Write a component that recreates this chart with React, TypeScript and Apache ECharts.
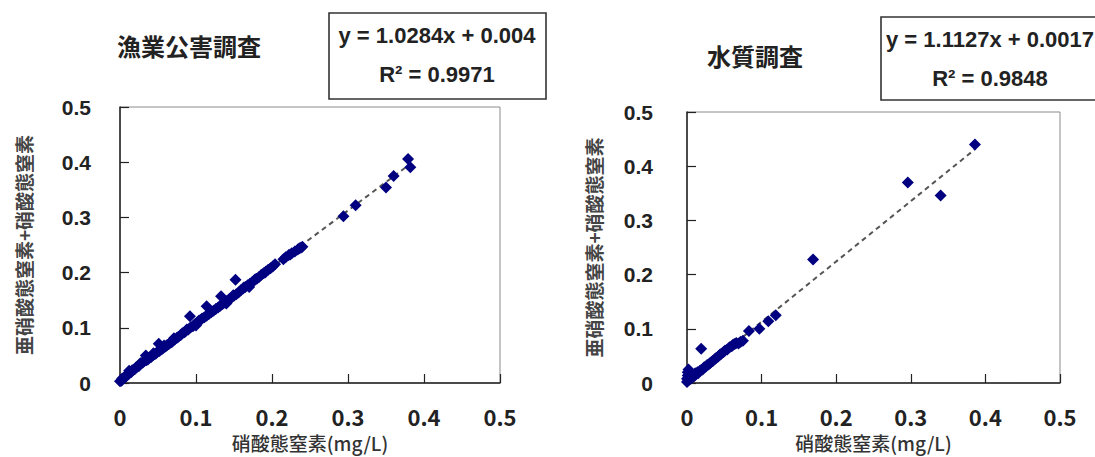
import React, { useEffect, useRef } from "react";
import * as echarts from "echarts";

// ---- data ----
const titles = ["漁業公害調査", "水質調査"];
const equations = ["y = 1.0284x + 0.004", "y = 1.1127x + 0.0017"];
const r2Texts = ["R² = 0.9971", "R² = 0.9848"];
const fitSlope = [1.0284, 1.1127];
const fitIntercept = [0.004, 0.0017];
const fitXEnd = [0.382, 0.386];
const xAxisTitle = "硝酸態窒素(mg/L)";
const yAxisTitle = "亜硝酸態窒素+硝酸態窒素";
const tickLabels = ["0", "0.1", "0.2", "0.3", "0.4", "0.5"];

// 漁業公害調査: nitrate-N (x), nitrite-N + nitrate-N (y)
const fisheryX = [
  0.0, 0.002, 0.003, 0.005, 0.006, 0.008, 0.01, 0.011, 0.013, 0.015, 0.016, 0.018, 0.02, 0.021, 0.023, 0.025,
  0.026, 0.028, 0.03, 0.032, 0.034, 0.035, 0.037, 0.039, 0.041, 0.043, 0.045, 0.047, 0.049, 0.051, 0.052, 0.054,
  0.056, 0.058, 0.06, 0.062, 0.064, 0.066, 0.068, 0.07, 0.072, 0.075, 0.077, 0.08, 0.082, 0.085, 0.087, 0.09,
  0.092, 0.093, 0.096, 0.098, 0.1, 0.101, 0.103, 0.106, 0.108, 0.111, 0.114, 0.114, 0.117, 0.12, 0.123, 0.126,
  0.129, 0.132, 0.133, 0.135, 0.138, 0.14, 0.141, 0.144, 0.147, 0.15, 0.152, 0.153, 0.156, 0.159, 0.162, 0.165,
  0.168, 0.17, 0.171, 0.174, 0.177, 0.18, 0.183, 0.186, 0.189, 0.192, 0.195, 0.198, 0.201, 0.215, 0.218, 0.222,
  0.226, 0.23, 0.234, 0.238, 0.24, 0.294, 0.31, 0.35, 0.36, 0.379, 0.382,
  0.012, 0.027, 0.044, 0.058, 0.071, 0.088, 0.104, 0.119, 0.136, 0.149, 0.163, 0.178, 0.191, 0.204, 0.224, 0.236,
];
const fisheryY = [
  0.003, 0.004, 0.008, 0.009, 0.011, 0.012, 0.015, 0.016, 0.019, 0.02, 0.023, 0.024, 0.026, 0.028, 0.03, 0.031,
  0.034, 0.036, 0.037, 0.04, 0.05, 0.041, 0.043, 0.046, 0.047, 0.05, 0.052, 0.053, 0.056, 0.071, 0.058, 0.061,
  0.062, 0.065, 0.066, 0.069, 0.07, 0.073, 0.074, 0.077, 0.079, 0.082, 0.084, 0.087, 0.09, 0.092, 0.095, 0.097,
  0.121, 0.101, 0.103, 0.106, 0.104, 0.109, 0.111, 0.114, 0.117, 0.119, 0.139, 0.122, 0.125, 0.128, 0.131, 0.134,
  0.137, 0.14, 0.157, 0.143, 0.146, 0.144, 0.149, 0.152, 0.155, 0.158, 0.187, 0.161, 0.164, 0.168, 0.171, 0.174,
  0.177, 0.174, 0.18, 0.183, 0.186, 0.189, 0.192, 0.196, 0.199, 0.202, 0.205, 0.208, 0.211, 0.224, 0.228, 0.232,
  0.235, 0.238, 0.242, 0.245, 0.247, 0.302, 0.322, 0.354, 0.375, 0.406, 0.391,
  0.022, 0.036, 0.054, 0.068, 0.081, 0.097, 0.113, 0.128, 0.145, 0.159, 0.173, 0.188, 0.2, 0.215, 0.233, 0.244,
];

// 水質調査
const waterX = [
  0.0, 0.0, 0.001, 0.001, 0.002, 0.002, 0.003, 0.004, 0.005, 0.006, 0.007, 0.008, 0.01, 0.011, 0.012, 0.014,
  0.015, 0.017, 0.019, 0.019, 0.021, 0.023, 0.025, 0.027, 0.029, 0.031, 0.033, 0.035, 0.037, 0.039, 0.042, 0.044,
  0.046, 0.049, 0.051, 0.054, 0.057, 0.06, 0.062, 0.064, 0.066, 0.069, 0.072, 0.075, 0.083, 0.097, 0.109, 0.119,
  0.169, 0.296, 0.34, 0.386,
];
const waterY = [
  0.002, 0.008, 0.014, 0.02, 0.025, 0.005, 0.011, 0.017, 0.008, 0.013, 0.01, 0.015, 0.013, 0.018, 0.016, 0.02,
  0.018, 0.022, 0.063, 0.024, 0.025, 0.029, 0.03, 0.033, 0.034, 0.037, 0.039, 0.041, 0.044, 0.046, 0.049, 0.052,
  0.054, 0.057, 0.06, 0.062, 0.066, 0.068, 0.071, 0.072, 0.074, 0.073, 0.076, 0.078, 0.096, 0.1, 0.114, 0.125,
  0.228, 0.37, 0.346, 0.44,
];

const seriesX = [fisheryX, waterX];
const seriesY = [fisheryY, waterY];

const CJK = "'Noto Sans CJK JP', 'Noto Sans', sans-serif";
const LAT = "'Liberation Sans', Arial, sans-serif";

export default function App() {
  const ref = useRef<HTMLDivElement>(null);
  useEffect(() => {
    if (!ref.current) return;
    const chart = echarts.init(ref.current, null, { renderer: "svg" });
    const grids = [
      { left: 120, top: 107, width: 380, height: 281 },
      { left: 687, top: 112, width: 373, height: 276 },
    ];
    const yNameGap = [87, 84];
    const fmt = (v: number) => tickLabels[Math.round(v * 10)] ?? String(v);
    const xAxes = grids.map((_, i) => ({
      gridIndex: i,
      type: "value",
      min: 0,
      max: 0.5,
      interval: 0.1,
      name: xAxisTitle,
      nameLocation: "middle",
      nameGap: 50,
      nameTextStyle: { fontFamily: CJK, fontSize: 19, color: "#333", fontWeight: 500, lineHeight: 19 },
      axisLine: { show: true, lineStyle: { color: "#222", width: 1.5 } },
      axisTick: { show: true, inside: true, length: 9, lineStyle: { color: "#222", width: 1.2 } },
      splitLine: { show: false },
      axisLabel: {
        formatter: fmt,
        margin: 22,
        fontFamily: CJK,
        fontSize: 22,
        lineHeight: 22,
        fontWeight: "bold",
        color: "#222",
      },
    }));
    const yAxes = grids.map((_, i) => ({
      gridIndex: i,
      type: "value",
      min: 0,
      max: 0.5,
      interval: 0.1,
      name: yAxisTitle,
      nameLocation: "middle",
      nameRotate: 90,
      nameGap: yNameGap[i],
      nameTextStyle: { fontFamily: CJK, fontSize: 19, color: "#444", fontWeight: "bold" },
      axisLine: { show: true, lineStyle: { color: "#222", width: 1.5 } },
      axisTick: { show: true, inside: true, length: 9, lineStyle: { color: "#222", width: 1.2 } },
      splitLine: { show: false },
      axisLabel: {
        formatter: fmt,
        margin: i === 0 ? 29 : 34,
        fontFamily: LAT,
        fontSize: 21,
        fontWeight: "bold",
        color: "#222",
      },
    }));
    const series: any[] = [];
    for (let i = 0; i < 2; i++) {
      const b = fitIntercept[i];
      const m = fitSlope[i];
      const xe = fitXEnd[i];
      series.push({
        type: "line",
        xAxisIndex: i,
        yAxisIndex: i,
        data: [
          [0, b],
          [xe, m * xe + b],
        ],
        symbol: "none",
        lineStyle: { color: "#555", width: 2, type: [5, 4] },
        z: 2,
      });
      series.push({
        type: "scatter",
        xAxisIndex: i,
        yAxisIndex: i,
        data: seriesX[i].map((x, k) => [x, seriesY[i][k]]),
        symbol: "diamond",
        symbolSize: 12,
        itemStyle: { color: "#000080", opacity: 1 },
        z: 3,
      });
    }
    const boxes = [
      { x: 329, y: 13, w: 217, h: 86, cx: 437 },
      { x: 881, y: 17, w: 220, h: 83, cx: 990 },
    ];
    const titlePos = [
      { x: 189, y: 45 },
      { x: 755, y: 55 },
    ];
    const graphics: any[] = [];
    for (let i = 0; i < 2; i++) {
      graphics.push({
        type: "text",
        x: titlePos[i].x,
        y: titlePos[i].y,
        style: {
          text: titles[i],
          fontFamily: CJK,
          fontSize: 24,
          fontWeight: "bold",
          fill: "#222",
          align: "center",
          verticalAlign: "middle",
        },
      });
      const bx = boxes[i];
      graphics.push({
        type: "rect",
        shape: { x: bx.x, y: bx.y, width: bx.w, height: bx.h },
        style: { fill: "#fff", stroke: "#333", lineWidth: 1.6 },
      });
      graphics.push({
        type: "text",
        x: bx.cx,
        y: bx.y + 22,
        style: {
          text: equations[i],
          fontFamily: LAT,
          fontSize: 22,
          fontWeight: "bold",
          fill: "#222",
          align: "center",
          verticalAlign: "middle",
        },
      });
      graphics.push({
        type: "text",
        x: bx.cx,
        y: bx.y + 61,
        style: {
          text: r2Texts[i],
          fontFamily: LAT,
          fontSize: 22,
          fontWeight: "bold",
          fill: "#222",
          align: "center",
          verticalAlign: "middle",
        },
      });
    }
    chart.setOption({
      animation: false,
      backgroundColor: "#fff",
      grid: grids.map((g) => ({ ...g, show: true, borderColor: "#8a8a8a", borderWidth: 1, backgroundColor: "transparent" })),
      xAxis: xAxes,
      yAxis: yAxes,
      series,
      graphic: graphics,
    });
    return () => chart.dispose();
  }, []);
  return (
    <div
      ref={ref}
      style={{ position: "fixed", left: 0, top: 0, width: 1095, height: 457, background: "#fff" }}
    />
  );
}
